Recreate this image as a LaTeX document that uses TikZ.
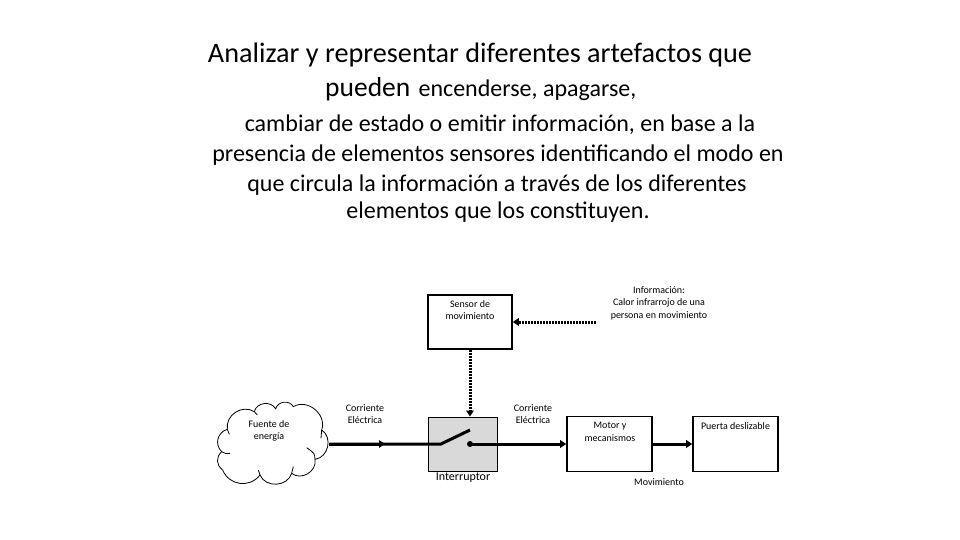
\documentclass[tikz,border=0pt]{standalone}
\usepackage{fontspec}
\setmainfont{Carlito}
\usetikzlibrary{arrows.meta}
\tikzset{
  x=1pt,y=-1pt,
  titleline/.style={inner sep=0pt,anchor=center,font=\fontsize{24}{26}\selectfont,text=black},
  smalllabel/.style={inner sep=0pt,align=center,font=\fontsize{10}{12.5}\selectfont,text=black},
  blockbox/.style={draw=black,line width=1.6pt,fill=white,inner sep=0pt},
  wire/.style={line width=3pt,draw=black},
  signal/.style={line width=3pt,draw=black,dash pattern=on 2pt off 1pt},
  tip/.style={-{Triangle[length=6pt,width=7.5pt]}},
  lobe/.style={bend left=#1,looseness=1.15},
}
\begin{document}
\begin{tikzpicture}
\useasboundingbox (0,0) rectangle (960,540);
\node[titleline,font=\fontsize{28.2}{30}\selectfont] (t1) at (480,54.5) {Analizar y representar diferentes artefactos que};
\node[titleline,anchor=base west,font=\fontsize{27.5}{30}\selectfont] (t2) at (325,97) {pueden\hspace{2pt} {\fontsize{24}{26}\selectfont encenderse, apagarse,}};
\node[titleline] (t3) at (500,125) {cambiar de estado o emitir información, en base a la};
\node[titleline] (t4) at (498,155) {presencia de elementos sensores identificando el modo en};
\node[titleline] (t5) at (497,185) {que circula la información a través de los diferentes};
\node[titleline] (t6) at (498,212.5) {elementos que los constituyen.};

\node[blockbox,minimum width=84pt,minimum height=54pt] (sensor) at (470,322) {};
\node[smalllabel] (sensorT) at (470,310) {Sensor de\\movimiento};
\node[blockbox,line width=1pt,fill=black!15,minimum width=69pt,minimum height=54pt] (switch) at (462.5,444) {};
\node[blockbox,minimum width=85pt,minimum height=55pt] (motor) at (609.5,444) {};
\node[smalllabel] (motorT) at (610,432) {Motor y\\mecanismos};
\node[blockbox,minimum width=85pt,minimum height=55pt] (door) at (735.5,444) {};
\node[smalllabel] (doorT) at (735.5,426) {Puerta deslizable};

\begin{scope}[shift={(210,395)},x=0.3333pt,y=-0.3333pt,line width=.8pt,line join=round]
\draw[fill=white]
 (52,103) to[lobe=65] (133,50)
 to[lobe=70] (197,42)
 to[lobe=70] (250,35)
 to[lobe=70] (335,105)
 to[lobe=70] (315,193)
 to[lobe=70] (245,235)
 to[lobe=70] (150,240)
 to[lobe=60] (38,225)
 to[lobe=50] (35,170)
 to[lobe=60] (52,103) -- cycle;
\draw (52,103) .. controls (53,110) .. (58,118);
\draw (35,170) .. controls (45,176) .. (60,175);
\draw (150,240) .. controls (146,232) .. (145,225);
\draw (245,235) .. controls (250,226) .. (250,215);
\draw (315,193) .. controls (314,175) .. (290,158);
\draw (335,105) .. controls (336,118) .. (333,130);
\draw (133,50) .. controls (138,54) .. (142,60);
\coordinate (sourceE) at (358,148);
\end{scope}
\node[smalllabel] (sourceT) at (269,431) {Fuente de\\energía};

\node[smalllabel] (infoT) at (659,303) {Información:\\Calor infrarrojo de una\\persona en movimiento};
\node[smalllabel] (cur1) at (365,414) {Corriente\\Eléctrica};
\node[smalllabel] (cur2) at (533,414) {Corriente\\Eléctrica};
\node[inner sep=0pt,font=\fontsize{12}{13}\selectfont,text=black] (intT) at (463,478) {Interruptor};
\node[smalllabel] (movT) at (659,482) {Movimiento};

\coordinate (infoEnd) at (596,322);
\coordinate (pivot) at (441,444);
\coordinate (lever) at (470,430);
\coordinate (contact) at (470,444);
\coordinate (midWire) at (385,444);

\draw[signal,tip] (infoEnd) -- (sensor.east);
\draw[signal,tip] (sensor.south) -- (switch.north -| sensor.south);
\draw[wire] (sourceE |- midWire) -- (pivot) -- (lever);
\draw[wire,tip] (sourceE |- midWire) -- (midWire);
\fill (contact) circle (3pt);
\draw[wire,tip] (contact) -- (motor.west);
\draw[wire,tip] (motor.east) -- (door.west);
\end{tikzpicture}
\end{document}
